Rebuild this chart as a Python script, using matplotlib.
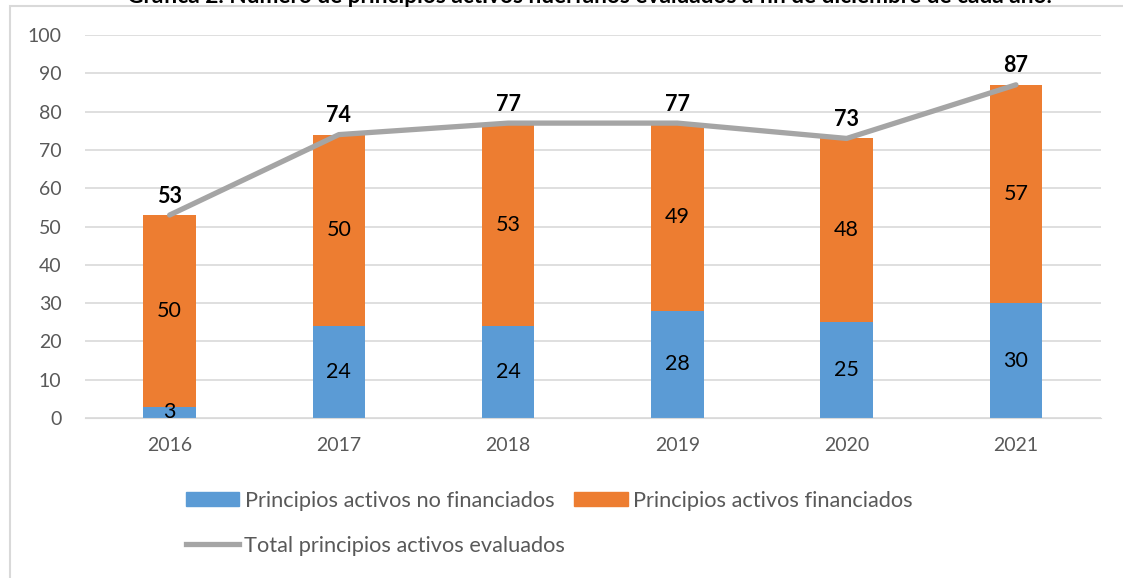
import matplotlib.pyplot as plt
from matplotlib.patches import Patch, Rectangle
from matplotlib.lines import Line2D

years = ["2016", "2017", "2018", "2019", "2020", "2021"]
no_financiados = [3, 24, 24, 28, 25, 30]
financiados = [50, 50, 53, 49, 48, 57]
totales = [53, 74, 77, 77, 73, 87]

BLUE = "#5B9BD5"
ORANGE = "#ED7D31"
GRAY = "#A5A5A5"
TXT = "#595959"

plt.rcParams["font.family"] = ["Lato", "DejaVu Sans"]

fig = plt.figure(figsize=(11.23, 5.78), dpi=100)
ax = fig.add_axes([0.0757, 0.2768, 0.9043, 0.6626])

# marco del gráfico (recortado por la imagen)
fig.patches.append(Rectangle((10 / 1123, -0.1), 1.2, 1.1 - 6 / 578, transform=fig.transFigure,
                             fill=False, edgecolor="#D9D9D9", linewidth=1.5))

x = list(range(len(years)))
w = 0.31
ax.bar(x, no_financiados, w, color=BLUE, zorder=2)
ax.bar(x, financiados, w, bottom=no_financiados, color=ORANGE, zorder=2)
ax.plot(x, totales, color=GRAY, linewidth=3.8, solid_capstyle="round", zorder=3)

for i in x:
    ax.text(i, no_financiados[i] / 2, str(no_financiados[i]), ha="center", va="center",
            fontsize=15.5, color="black", zorder=4)
    ax.text(i, no_financiados[i] + financiados[i] / 2, str(financiados[i]), ha="center",
            va="center", fontsize=15.5, color="black", zorder=4)
    ax.annotate(str(totales[i]), (i, totales[i]), xytext=(0, 6), textcoords="offset points",
                ha="center", va="bottom", fontsize=15.5, fontweight="bold", color="black", zorder=4)

ax.set_xlim(-0.5, 5.5)
ax.set_ylim(0, 100)
ax.set_yticks(range(0, 101, 10))
ax.set_xticks(x)
ax.set_xticklabels(years)
ax.tick_params(axis="both", length=0, labelsize=14, labelcolor=TXT)
ax.tick_params(axis="x", pad=14)
ax.tick_params(axis="y", pad=17)
ax.grid(axis="y", color="#D9D9D9", linewidth=1.2, zorder=0)
for s in ["top", "right", "left"]:
    ax.spines[s].set_visible(False)
ax.spines["bottom"].set_color("#D9D9D9")

fig.text(0.525, 1 - 3 / 578, "Gráfica 2. Número de principios activos huérfanos evaluados a fin de diciembre de cada año.",
         ha="center", va="baseline", fontsize=16.3, fontweight="bold", color="black")

h1 = [Patch(color=BLUE, label="Principios activos no financiados"),
      Patch(color=ORANGE, label="Principios activos financiados")]
fig.legend(handles=h1, loc="center left", bbox_to_anchor=(186 / 1123, 1 - 501 / 578), ncol=2,
           frameon=False, fontsize=15.7, handlelength=2.45, handleheight=0.6, handletextpad=0.25,
           columnspacing=0.9, borderpad=0, borderaxespad=0, labelcolor=TXT)
h2 = [Line2D([0], [0], color=GRAY, linewidth=3.8, label="Total principios activos evaluados")]
fig.legend(handles=h2, loc="center left", bbox_to_anchor=(186 / 1123, 1 - 546 / 578),
           frameon=False, fontsize=15.7, handlelength=2.45, handletextpad=0.2,
           borderpad=0, borderaxespad=0, labelcolor=TXT)

fig.savefig("out.png", dpi=100)
